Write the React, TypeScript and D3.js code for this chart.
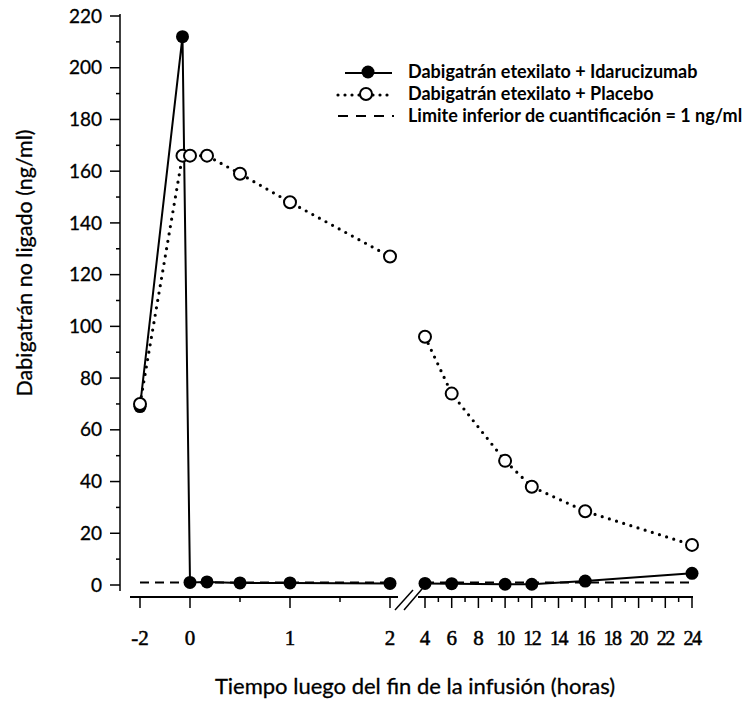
import React from "react";
import * as d3 from "d3";

// ---- data ----
const timesIda = [-2, -0.3, 0, 0.17, 0.5, 1, 2, 4, 6, 10, 12, 16, 24];
const valuesIda = [69, 212, 1, 1.2, 0.8, 0.8, 0.6, 0.6, 0.5, 0.3, 0.3, 1.5, 4.5];
const timesPla = [-2, -0.3, 0, 0.17, 0.5, 1, 2, 4, 6, 10, 12, 16, 24];
const valuesPla = [70, 166, 166, 166, 159, 148, 127, 96, 74, 48, 38, 28.5, 15.5];
const lloqValue = 1;
const lloqTimes = [-2, 2, 4, 24];

const xMajorLeft = [-2, 0, 1, 2];
const xMinorLeft = [0.5, 1.5];
const xMajorRight = [4, 6, 8, 10, 12, 14, 16, 18, 20, 22, 24];
const xMinorRight = [5, 7, 9, 11, 13, 15, 17, 19, 21, 23];
const yMajor = [0, 20, 40, 60, 80, 100, 120, 140, 160, 180, 200, 220];
const yMinor = [10, 30, 50, 70, 90, 110, 130, 150, 170, 190, 210];

const legendLabels = [
  "Dabigatrán etexilato + Idarucizumab",
  "Dabigatrán etexilato + Placebo",
  "Limite inferior de cuantificación = 1 ng/ml",
];
const xTitle = "Tiempo luego del fin de la infusión (horas)";
const yTitle = "Dabigatrán no ligado (ng/ml)";

const W = 751;
const H = 705;

export default function App() {
  // piecewise (broken) time axis
  const x = d3.scaleLinear().domain([-2, 0, 2, 4, 24]).range([140, 190, 390, 425, 692]);
  const y = d3.scaleLinear().domain([0, 220]).range([585, 16]);
  const axisY = 597;
  const yAxisX = 120;

  type P = { t: number; v: number };
  const ida: P[] = timesIda.map((t, i) => ({ t, v: valuesIda[i] }));
  const pla: P[] = timesPla.map((t, i) => ({ t, v: valuesPla[i] }));
  const line = d3
    .line<P>()
    .x((d) => x(d.t))
    .y((d) => y(d.v));
  const seg = (arr: P[]) => [arr.filter((d) => d.t <= 2), arr.filter((d) => d.t >= 4)];

  const lloqSegs = [
    [lloqTimes[0], lloqTimes[1]],
    [lloqTimes[2], lloqTimes[3]],
  ];

  const tickFont = "'Liberation Serif', serif";
  const textFont = "Lato, 'Open Sans', sans-serif";

  return (
    <svg
      width={W}
      height={H}
      style={{ position: "absolute", left: 0, top: 0, background: "#fff" }}
    >
      <rect width={W} height={H} fill="#fff" />
      {/* y axis */}
      <line x1={yAxisX} x2={yAxisX} y1={y(220) - 2} y2={591} stroke="#000" strokeWidth={1.5} />
      {yMajor.map((v) => (
        <g key={"ym" + v}>
          <line x1={yAxisX - 10} x2={yAxisX} y1={y(v)} y2={y(v)} stroke="#000" strokeWidth={1.5} />
          <text
            x={yAxisX - 18}
            y={y(v)}
            dy="0.35em"
            textAnchor="end"
            fontFamily={textFont}
            fontSize={19}
            fill="#000"
            stroke="#000"
            strokeWidth={0.3}
          >
            {v}
          </text>
        </g>
      ))}
      {yMinor.map((v) => (
        <line key={"yn" + v} x1={yAxisX - 4} x2={yAxisX} y1={y(v)} y2={y(v)} stroke="#000" strokeWidth={1.5} />
      ))}

      {/* x axis (broken) */}
      <line x1={130} x2={398} y1={axisY} y2={axisY} stroke="#000" strokeWidth={2} />
      <line x1={418} x2={x(24) + 1} y1={axisY} y2={axisY} stroke="#000" strokeWidth={2} />
      <line x1={395} y1={610} x2={413} y2={590} stroke="#000" strokeWidth={1.5} />
      <line x1={404} y1={610} x2={422} y2={589} stroke="#000" strokeWidth={1.5} />
      {[...xMajorLeft, ...xMajorRight].map((t) => (
        <line key={"xm" + t} x1={x(t)} x2={x(t)} y1={axisY} y2={axisY + 11} stroke="#000" strokeWidth={1.5} />
      ))}
      {[...xMinorLeft, ...xMinorRight].map((t) => (
        <line key={"xn" + t} x1={x(t)} x2={x(t)} y1={axisY} y2={axisY + 5} stroke="#000" strokeWidth={1.5} />
      ))}
      {[...xMajorLeft, ...xMajorRight].map((t) => (
        <text
          key={"xl" + t}
          x={x(t)}
          y={645}
          textAnchor="middle"
          fontFamily={tickFont}
          fontSize={t >= 10 ? 20 : 21}
          letterSpacing={t >= 10 ? -1.5 : 0}
          fill="#000"
          stroke="#000"
          strokeWidth={0.5}
        >
          {t}
        </text>
      ))}

      {/* LLOQ dashed line */}
      {lloqSegs.map((s, i) => (
        <line
          key={"lq" + i}
          x1={x(s[0])}
          x2={x(s[1])}
          y1={y(lloqValue)}
          y2={y(lloqValue)}
          stroke="#000"
          strokeWidth={2}
          strokeDasharray="9,6"
        />
      ))}

      {/* placebo dotted line */}
      {seg(pla).map((s, i) => (
        <path
          key={"pl" + i}
          d={line(s) || ""}
          fill="none"
          stroke="#000"
          strokeWidth={3.2}
          strokeLinecap="round"
          strokeDasharray="0,7.5"
        />
      ))}
      {/* idarucizumab solid line */}
      {seg(ida).map((s, i) => (
        <path key={"il" + i} d={line(s) || ""} fill="none" stroke="#000" strokeWidth={2} />
      ))}

      {ida.map((d, i) => (
        <circle key={"ic" + i} cx={x(d.t)} cy={y(d.v)} r={6.5} fill="#000" />
      ))}
      {pla.map((d, i) => (
        <circle key={"pc" + i} cx={x(d.t)} cy={y(d.v)} r={6} fill="#fff" stroke="#000" strokeWidth={2} />
      ))}

      {/* legend */}
      <g fontFamily={textFont} fontSize={18} fontWeight={700} fill="#000">
        <line x1={345} x2={392} y1={73} y2={73} stroke="#000" strokeWidth={2} />
        <circle cx={368} cy={72} r={6.5} fill="#000" />
        <text x={408} y={72} dy="0.35em">{legendLabels[0]}</text>

        <line
          x1={338}
          x2={394}
          y1={95}
          y2={95}
          stroke="#000"
          strokeWidth={3.2}
          strokeLinecap="round"
          strokeDasharray="0,7"
        />
        <circle cx={366} cy={94} r={6} fill="#fff" stroke="#000" strokeWidth={2} />
        <text x={408} y={94} dy="0.35em">{legendLabels[1]}</text>

        <line x1={338} x2={394} y1={116} y2={116} stroke="#000" strokeWidth={2} strokeDasharray="10,8" />
        <text x={408} y={116} dy="0.35em">{legendLabels[2]}</text>
      </g>

      {/* axis titles */}
      <text
        x={415}
        y={694}
        textAnchor="middle"
        fontFamily={textFont}
        fontSize={22}
        fill="#000"
        stroke="#000"
        strokeWidth={0.3}
      >
        {xTitle}
      </text>
      <text
        transform={`translate(32, 263) rotate(-90)`}
        textAnchor="middle"
        fontFamily={textFont}
        fontSize={21.5}
        fill="#000"
        stroke="#000"
        strokeWidth={0.3}
      >
        {yTitle}
      </text>
    </svg>
  );
}
